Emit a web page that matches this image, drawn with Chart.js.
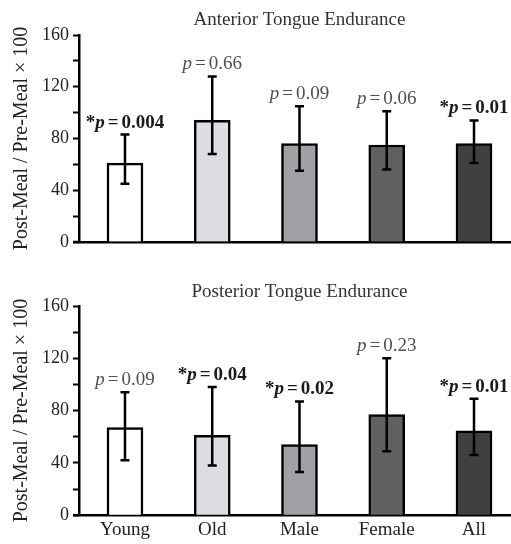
<!DOCTYPE html>
<html>
<head>
<meta charset="utf-8">
<script src="https://cdn.jsdelivr.net/npm/chart.js@4.4.1/dist/chart.umd.min.js"></script>
<style>
  html, body { margin: 0; padding: 0; background: #fff; }
  canvas { display: block; }
</style>
</head>
<body>
<canvas id="anterior" width="511" height="262"></canvas>
<canvas id="posterior" width="511" height="282"></canvas>
<script>
// Dados
const categorias = ['Young', 'Old', 'Male', 'Female', 'All'];
const coresBarras = ['#ffffff', '#dcdde0', '#a0a1a4', '#606062', '#404041'];
const yTicks = [0, 40, 80, 120, 160];

const anteriorMedia = [61, 94, 76, 75, 76];
const anteriorSup = [83, 128, 105, 101, 94];
const anteriorInf = [45, 68, 55, 56, 61];
const anteriorP = ['0.004', '0.66', '0.09', '0.06', '0.01'];
const anteriorSig = [true, false, false, false, true];

const posteriorMedia = [67, 61, 54, 77, 64.5];
const posteriorSup = [94, 98, 87, 120, 89];
const posteriorInf = [42, 38, 33, 49, 46];
const posteriorP = ['0.09', '0.04', '0.02', '0.23', '0.01'];
const posteriorSig = [false, true, true, false, true];

const FONTE = '"Liberation Serif", "Times New Roman", serif';

// Escreve o texto do p-valor em pedaços (asterisco, p itálico, =, valor)
function desenharP(ctx, x, y, valor, sig) {
    const peso = sig ? 'bold ' : '';
    const partes = [];
    if (sig) partes.push({ t: '*', f: 'bold 19px ' + FONTE, g: 0 });
    partes.push({ t: 'p', f: 'italic ' + peso + '19px ' + FONTE, g: 3 });
    partes.push({ t: '=', f: peso + '19px ' + FONTE, g: 3 });
    partes.push({ t: valor, f: peso + '19px ' + FONTE, g: 0 });
    let total = 0;
    partes.forEach(p => {
        ctx.font = p.f;
        p.w = ctx.measureText(p.t).width;
        total += p.w + p.g;
    });
    let cx = x - total / 2;
    ctx.fillStyle = sig ? '#1a1a1a' : '#505050';
    ctx.textAlign = 'left';
    ctx.textBaseline = 'alphabetic';
    partes.forEach(p => {
        ctx.font = p.f;
        ctx.fillText(p.t, cx, y);
        cx += p.w + p.g;
    });
}

const pluginErros = {
    id: 'erros',
    afterDatasetsDraw(chart, args, opts) {
        const ctx = chart.ctx;
        const xs = chart.scales.x;
        const ys = chart.scales.y;
        const area = chart.chartArea;
        ctx.save();
        ctx.strokeStyle = '#000';
        ctx.lineWidth = 2.5;
        // eixo x passa um pouco à esquerda do eixo y
        ctx.beginPath();
        ctx.moveTo(area.left - 6, area.bottom);
        ctx.lineTo(area.left, area.bottom);
        ctx.stroke();
        opts.sup.forEach((hi, i) => {
            const x = xs.getPixelForValue(i);
            const yHi = ys.getPixelForValue(hi);
            const yLo = ys.getPixelForValue(opts.inf[i]);
            ctx.beginPath();
            ctx.moveTo(x, yHi);
            ctx.lineTo(x, yLo);
            ctx.moveTo(x - 4.5, yHi);
            ctx.lineTo(x + 4.5, yHi);
            ctx.moveTo(x - 4.5, yLo);
            ctx.lineTo(x + 4.5, yLo);
            ctx.stroke();
            desenharP(ctx, x, yHi - 7, opts.p[i], opts.sig[i]);
        });
        // título centrado na barra do meio
        ctx.font = '19px ' + FONTE;
        ctx.fillStyle = '#333';
        ctx.textAlign = 'center';
        ctx.textBaseline = 'middle';
        ctx.fillText(opts.titulo, xs.getPixelForValue(2), opts.tituloY);
        ctx.restore();
    }
};

function criarGrafico(id, media, sup, inf, p, sig, titulo, tituloY, padTop, mostrarX) {
    const ctx = document.getElementById(id).getContext('2d');
    return new Chart(ctx, {
        type: 'bar',
        data: {
            datasets: [{
                data: media.map((v, i) => ({ x: i, y: v })),
                backgroundColor: coresBarras,
                borderColor: '#000',
                borderWidth: 2.5,
                barThickness: 36
            }]
        },
        options: {
            responsive: false,
            animation: false,
            layout: { padding: { top: padTop, right: 0, left: 0, bottom: mostrarX ? 0 : 20 } },
            plugins: {
                legend: { display: false },
                tooltip: { enabled: false },
                erros: { sup, inf, p, sig, titulo, tituloY }
            },
            scales: {
                x: {
                    type: 'linear',
                    offset: false,
                    min: -0.527,
                    max: 4.424,
                    afterBuildTicks: s => { s.ticks = categorias.map((c, i) => ({ value: i })); },
                    grid: { display: false, drawTicks: false },
                    border: { display: true, color: '#000', width: 2.5 },
                    ticks: {
                        display: mostrarX,
                        padding: 3,
                        color: '#222',
                        font: { family: FONTE, size: 19 },
                        callback: v => categorias[v]
                    }
                },
                y: {
                    min: 0,
                    max: 160,
                    afterFit: s => { s.width = 79; },
                    ticks: {
                        stepSize: 20,
                        padding: 4,
                        color: '#222',
                        font: { family: FONTE, size: 18 },
                        callback: v => yTicks.includes(v) ? v : ''
                    },
                    grid: { drawOnChartArea: false, tickLength: 6, tickWidth: 2, color: '#000' },
                    border: { color: '#000', width: 2.5 },
                    title: {
                        display: true,
                        text: 'Post-Meal / Pre-Meal × 100',
                        color: '#222',
                        font: { family: FONTE, size: 20 },
                        padding: { top: 10, bottom: 0 }
                    }
                }
            }
        },
        plugins: [pluginErros]
    });
}

criarGrafico('anterior', anteriorMedia, anteriorSup, anteriorInf, anteriorP, anteriorSig,
    'Anterior Tongue Endurance', 20, 35, false);
criarGrafico('posterior', posteriorMedia, posteriorSup, posteriorInf, posteriorP, posteriorSig,
    'Posterior Tongue Endurance', 30, 44, true);
</script>
</body>
</html>
